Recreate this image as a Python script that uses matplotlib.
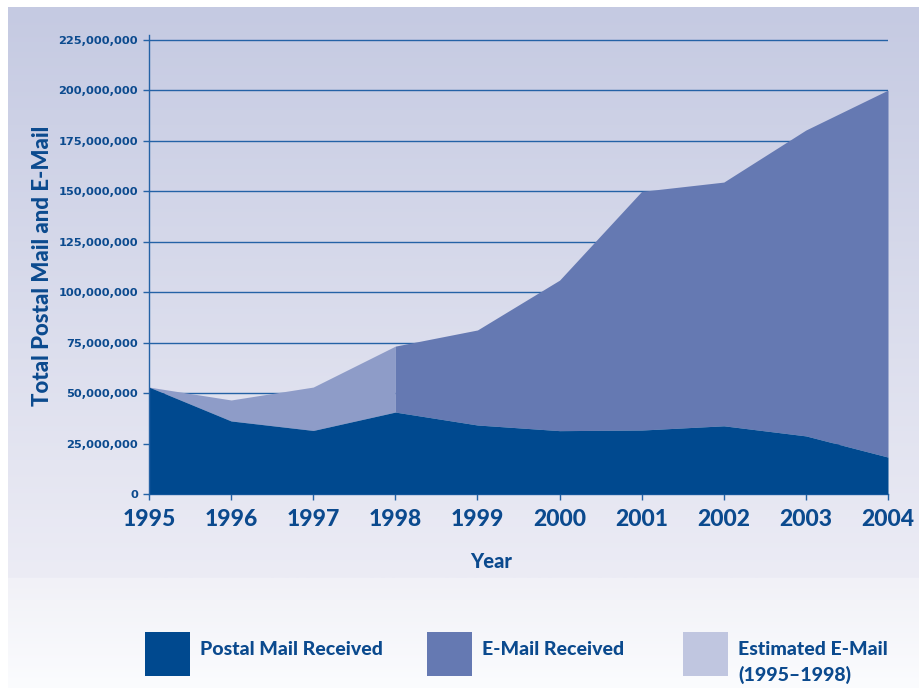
import numpy as np
import matplotlib.pyplot as plt
from matplotlib.patches import Rectangle
from matplotlib.ticker import FuncFormatter

# ── data ──────────────────────────────────────────────────
years = [1995, 1996, 1997, 1998, 1999, 2000, 2001, 2002, 2003, 2004]
postal = [53.0, 36.2, 31.5, 40.6, 34.2, 31.4, 31.7, 33.8, 28.8, 18.3]       # millions
total = [53.0, 46.6, 53.0, 73.3, 81.3, 106.0, 150.0, 154.6, 180.4, 200.2]   # postal + e-mail
est_end = 4   # points 1995-1998 are estimated e-mail

legend_labels = ["Postal Mail Received", "E-Mail Received", "Estimated E-Mail\n(1995\u20131998)"]

# ── colours ───────────────────────────────────────────────
C_POSTAL = "#00498F"
C_EMAIL = "#6579B2"
C_EST = "#8E9CC8"
C_EST_LEG = "#C0C6E0"
C_TEXT = "#0B4A8E"
C_GRID = "#2462A6"

yrs = np.array(years)
post = np.array(postal) * 1e6
tot = np.array(total) * 1e6

W, H = 919, 688
fig = plt.figure(figsize=(W / 100, H / 100), dpi=100)

# ── background panels ─────────────────────────────────────
bg = fig.add_axes([0, 0, 1, 1], zorder=-5)
bg.set_xlim(0, W)
bg.set_ylim(H, 0)
bg.axis("off")
top_c = np.array([197, 202, 226]) / 255
mid_c = np.array([236, 236, 245]) / 255
t = np.linspace(0, 1, 256)[:, None]
grad1 = (top_c * (1 - t) + mid_c * t)[:, None, :]
bg.imshow(grad1, extent=[8, W, 578, 7], aspect="auto", interpolation="bilinear")
low_a = np.array([241, 241, 247]) / 255
low_b = np.array([251, 252, 254]) / 255
grad2 = (low_a * (1 - t) + low_b * t)[:, None, :]
bg.imshow(grad2, extent=[8, W, H, 578], aspect="auto", interpolation="bilinear")

# ── main chart ────────────────────────────────────────────
ax = fig.add_axes([149 / W, 1 - 494 / H, (888 - 149) / W, (494 - 35) / H])
ax.set_facecolor("none")

ax.fill_between(yrs, 0, post, color=C_POSTAL, lw=0, zorder=3)
ax.fill_between(yrs[:est_end], post[:est_end], tot[:est_end], color=C_EST, lw=0, zorder=2)
ax.fill_between(yrs[est_end - 1:], post[est_end - 1:], tot[est_end - 1:], color=C_EMAIL, lw=0, zorder=2)

ax.set_xlim(1995, 2004)
ax.set_ylim(0, 227.5e6)
ax.set_yticks(np.arange(0, 225e6 + 1, 25e6))
ax.set_xticks(years)
ax.yaxis.set_major_formatter(FuncFormatter(lambda v, p: f"{int(v):,}"))

for v in np.arange(25e6, 225e6 + 1, 25e6):
    ax.axhline(v, color=C_GRID, lw=1.0, zorder=1)

for s in ["top", "right"]:
    ax.spines[s].set_visible(False)
for s in ["left", "bottom"]:
    ax.spines[s].set_color(C_GRID)
    ax.spines[s].set_linewidth(1.0)
ax.spines["left"].set_zorder(4)

ax.tick_params(axis="y", colors=C_GRID, length=4, width=1, pad=4, labelcolor=C_TEXT)
ax.tick_params(axis="x", colors=C_GRID, length=4, width=1, pad=7, labelcolor=C_TEXT)
for lab in ax.get_yticklabels():
    lab.set_fontfamily("DejaVu Sans")
    lab.set_fontweight("bold")
    lab.set_fontsize(8.2)
for lab in ax.get_xticklabels():
    lab.set_fontfamily("Lato")
    lab.set_fontweight("black")
    lab.set_fontsize(16.5)

fig.text(43 / W, 1 - 266 / H, "Total Postal Mail and E-Mail", rotation=90,
         ha="center", va="center", fontsize=16, fontweight="black",
         family="Lato", color=C_TEXT)
fig.text(491 / W, 1 - 562 / H, "Year", ha="center", va="center",
         fontsize=14.5, fontweight="black", family="Lato", color=C_TEXT)

# ── legend ────────────────────────────────────────────────
leg_colors = [C_POSTAL, C_EMAIL, C_EST_LEG]
leg_x = [145, 427, 683]
for x0, col, lab in zip(leg_x, leg_colors, legend_labels):
    bg.add_patch(Rectangle((x0, 632), 45, 44, color=col, lw=0))
    bg.text(x0 + 55, 641, lab, ha="left", va="top", fontsize=14,
            fontweight="black", family="Lato", color=C_TEXT, linespacing=1.5)

fig.savefig("out.png", dpi=100)
